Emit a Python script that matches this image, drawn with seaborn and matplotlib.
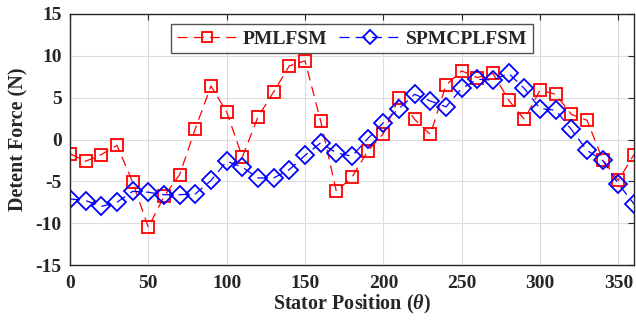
import numpy as np
import pandas as pd
import matplotlib
matplotlib.use("Agg")
import matplotlib.pyplot as plt
import seaborn as sns

positions = list(range(0, 361, 10))
pmlfsm = [-1.7, -2.6, -1.8, -0.7, -5.1, -10.5, -6.8, -4.2, 1.3, 6.4,
          3.3, -2.1, 2.7, 5.7, 8.8, 9.4, 2.2, -6.2, -4.5, -1.4,
          0.7, 5.0, 2.4, 0.6, 6.5, 8.2, 7.4, 7.9, 4.7, 2.4,
          5.9, 5.4, 3.0, 2.3, -2.4, -4.9, -1.8]
spmcplfsm = [-7.1, -7.3, -8.0, -7.5, -6.2, -6.3, -6.6, -6.6, -6.5, -4.9,
             -2.6, -3.3, -4.6, -4.6, -3.6, -1.9, -0.4, -1.6, -2.0, 0.1,
             2.0, 3.7, 5.4, 4.6, 3.9, 6.1, 7.2, 7.1, 7.9, 6.1,
             3.7, 3.5, 1.2, -1.3, -2.5, -5.3, -7.7]
xticks = [0, 50, 100, 150, 200, 250, 300, 350]
yticks = [-15, -10, -5, 0, 5, 10, 15]

sns.set_theme(style="white")
plt.rcParams['font.family'] = ['Liberation Serif', 'DejaVu Serif']
plt.rcParams['font.weight'] = 'bold'
plt.rcParams['axes.unicode_minus'] = False
plt.rcParams['mathtext.fontset'] = 'custom'
plt.rcParams['mathtext.it'] = 'Liberation Serif:italic:bold'
plt.rcParams['mathtext.rm'] = 'Liberation Serif:bold'

df = pd.DataFrame({"pos": positions, "PMLFSM": pmlfsm, "SPMCPLFSM": spmcplfsm})

fig = plt.figure(figsize=(6.36, 3.25), dpi=100)
ax = fig.add_axes([70/636, 1 - 265/325, 564/636, 251/325])

sns.lineplot(data=df, x="pos", y="PMLFSM", ax=ax, color="#ff0000", lw=0.9,
             marker="s", markersize=9, markerfacecolor="none",
             markeredgecolor="#ff0000", markeredgewidth=1.3,
             dashes=False, linestyle=(0, (8, 5)), label="PMLFSM")
sns.lineplot(data=df, x="pos", y="SPMCPLFSM", ax=ax, color="#0000ff", lw=0.9,
             marker="D", markersize=9, markerfacecolor="none",
             markeredgecolor="#0000ff", markeredgewidth=1.3,
             dashes=False, linestyle=(0, (8, 5)), label="SPMCPLFSM")

ax.set_xlim(0, 360)
ax.set_ylim(-15, 15)
ax.set_xticks(xticks)
ax.set_yticks(yticks)
ax.grid(True, color="#dcdcdc", lw=0.8)
ax.set_axisbelow(True)
for s in ax.spines.values():
    s.set_color("#262626")
    s.set_linewidth(1.0)
ax.tick_params(direction="in", length=4, width=0.8, top=True, right=True,
               labelsize=14, colors="#262626")
ax.tick_params(axis="x", pad=7)
ax.tick_params(axis="y", pad=6)
for lab in ax.get_xticklabels() + ax.get_yticklabels():
    lab.set_fontweight("bold")
ax.set_xlabel(r"Stator Position ($\mathit{\theta}$)", fontsize=14.5, fontweight="bold", color="#262626", labelpad=1)
ax.set_ylabel("Detent Force (N)", fontsize=14.5, fontweight="bold", color="#262626", labelpad=5)

leg = ax.legend(loc="upper center", bbox_to_anchor=(0.5, 0.975), ncol=2, frameon=True,
                fancybox=False, edgecolor="#262626", fontsize=14, handlelength=3.1,
                markerscale=0.8, columnspacing=0.6, handletextpad=0.3,
                borderpad=0.3, borderaxespad=0.2)
leg.get_frame().set_linewidth(1.0)
for t in leg.get_texts():
    t.set_fontweight("bold")

fig.savefig("out.png", dpi=100)
